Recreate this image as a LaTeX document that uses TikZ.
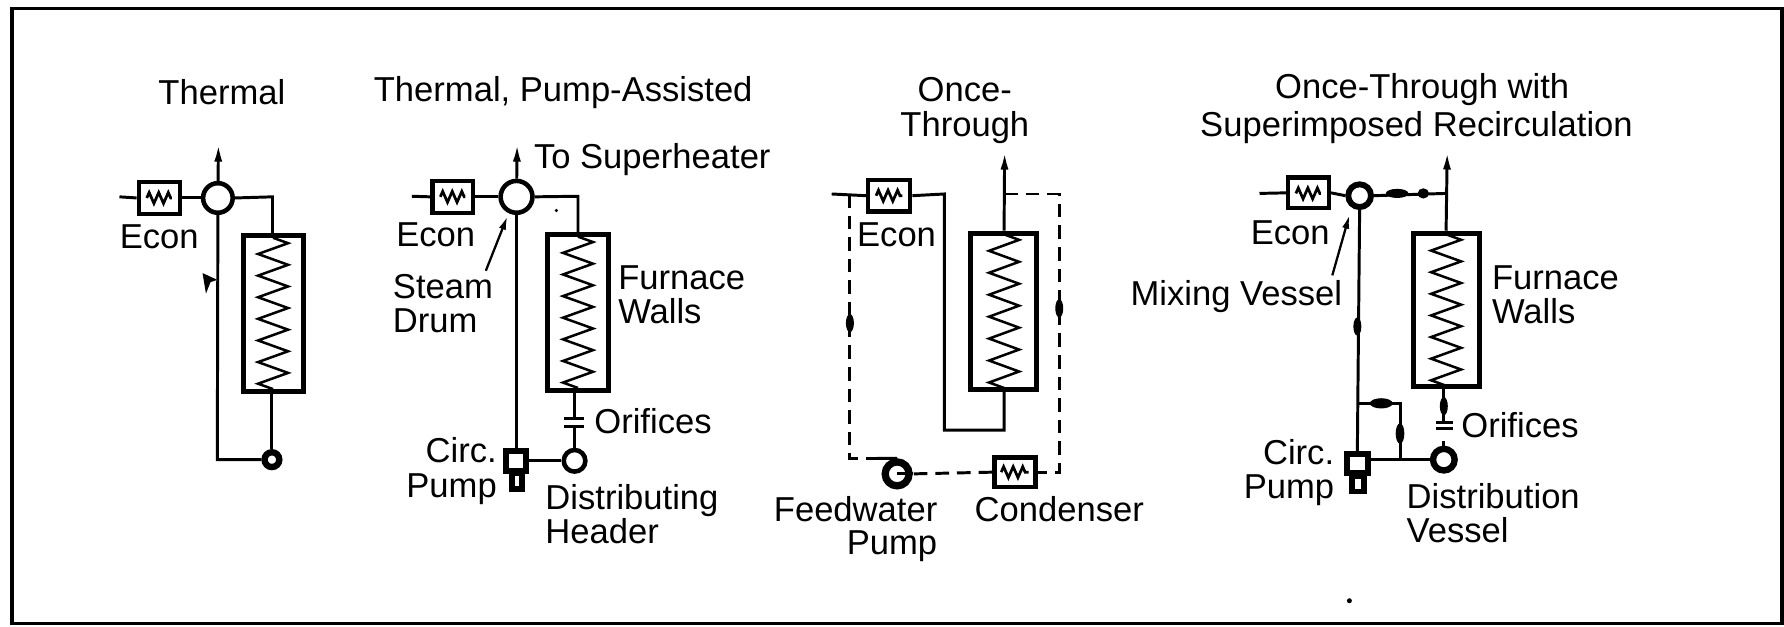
\documentclass[tikz,border=0pt]{standalone}
\usepackage{fontspec}
\setmainfont{Liberation Sans}
\usetikzlibrary{decorations.pathmorphing,arrows.meta,shapes.geometric}
\tikzset{
  x=0.5pt,y=-0.5pt,
  pipe/.style={line width=1.3pt},
  dashpipe/.style={line width=1.3pt,dash pattern=on 6pt off 3.5pt},
  furnace/.style={draw,line width=2.2pt,inner sep=0pt,fill=white},
  econbox/.style={draw,line width=1.9pt,inner sep=0pt,fill=white},
  pumpbox/.style={draw,line width=2.6pt,inner sep=0pt,fill=white},
  vessel/.style={draw,circle,inner sep=0pt,fill=white},
  lbl/.style={inner sep=0pt,font=\fontsize{15.2}{16}\selectfont},
  lblL/.style={lbl,anchor=west},
  lblR/.style={lbl,anchor=east},
  tiparrow/.style={-{Latex[length=8pt,width=3.5pt]}},
  blob/.style={fill,ellipse,inner sep=0pt},
}
\newcommand{\boxat}[6]{% name x1 y1 x2 y2 style
  \node[#6,minimum width={(#4-#2)*0.5pt},minimum height={(#5-#3)*0.5pt}] (#1) at ({(#2+#4)/2},{(#3+#5)/2}) {};}
\newcommand{\vcoil}[4]{% cx ytop ybot segments
  \draw[line width=1.1pt,decorate,decoration={zigzag,amplitude=6.6pt,segment length={(#3-#2)*0.5pt/#4}}] (#1,#2) -- (#1,#3);}
\newcommand{\hcoil}[3]{% x1 x2 y
  \draw[line width=1.2pt,decorate,decoration={zigzag,amplitude=2.4pt,segment length=4.2pt}] (#1,#3) -- (#2,#3);}
\begin{document}
\begin{tikzpicture}
\useasboundingbox (0,0) rectangle (1568,551);
\fill[white] (0,0) rectangle (1568,551);
\coordinate (fa) at (10.5,7.5); \coordinate (fb) at (1566,548);
\draw[line width=1.6pt] (fa) rectangle (fb);

%% Panel 1: Thermal
\node[lbl] (t1) at (195,81) {Thermal};
\coordinate (a1top) at (192,126);
\coordinate (a1in) at (105,173);
\coordinate (a1rc) at (239.5,173);
\coordinate (a1lc) at (191,404);
\boxat{a1econ}{122}{160}{158}{188}{econbox}
\hcoil{129}{151}{174}
\boxat{a1f}{214}{207}{267}{344}{furnace}
\vcoil{240}{209}{342}{7}
\node[vessel,line width=2pt,minimum size=13pt] (a1d) at (191.5,174) {};
\node[vessel,line width=2.8pt,minimum size=6.5pt] (a1h) at (239,404) {};
\node[lbl] (a1el) at (140,208) {Econ};
\draw[pipe] (a1in) -- (a1econ.west);
\draw[pipe] (a1econ) -- (a1d);
\draw[pipe,tiparrow] (a1d) -- (a1top);
\draw[pipe] (a1d.east) -- (a1rc) -- (a1f.north-|a1rc);
\draw[pipe] (a1f.south-|a1h) -- (a1h);
\draw[pipe] (a1d.south) -- (a1lc) -- (a1h.west);
\coordinate (a1fl) at (191,246);
\fill (a1fl) -- ++(-13,-6) -- ++(3,18) -- ++(4,-10) -- cycle;

%% Panel 2: Thermal, Pump-Assisted
\node[lbl] (t2) at (495,81) {Thermal, Pump-Assisted};
\coordinate (b2top) at (454.5,126);
\coordinate (b2in) at (362,172.5);
\coordinate (b2rc) at (508,172.5);
\boxat{b2econ}{380}{159}{416}{187}{econbox}
\hcoil{387}{409}{173}
\boxat{b2f}{481}{206}{535}{343}{furnace}
\vcoil{508}{208}{341}{7}
\node[vessel,line width=2pt,minimum size=14pt] (b2d) at (454,173) {};
\node[vessel,line width=2pt,minimum size=9.5pt] (b2h) at (505,405) {};
\boxat{b2p}{445}{396}{462}{414}{pumpbox}
\boxat{b2q}{450}{416}{459}{430}{pumpbox}
\fill[white] (452,402) rectangle (456,408);
\node[lbl] (b2el) at (383,206) {Econ};
\node[lblL] (b2ts) at (469,140.5) {To Superheater};
\node[lblL,align=left,text width=55pt] (b2sd) at (345,267) {Steam\\[-1pt]Drum};
\node[lblL,align=left] (b2fw) at (543,259) {Furnace\\[-1pt]Walls};
\node[lblL] (b2or) at (522,370.5) {Orifices};
\node[lblR,align=right] (b2cp) at (437,414) {Circ.\\[-1pt]Pump};
\node[lblL,align=left] (b2dh) at (479,452) {Distributing\\[-1pt]Header};
\coordinate (b2po) at (427,238);
\draw[pipe] (b2in) -- (b2econ.west);
\draw[pipe] (b2econ) -- (b2d);
\draw[pipe,tiparrow] (b2d) -- (b2top);
\draw[pipe] (b2d.east) -- (b2rc) -- (b2f.north-|b2rc);
\draw[pipe] (b2d.south) -- (b2p.north-|b2d);
\draw[pipe] (b2p.east|-b2h) -- (b2h.west);
\coordinate (b2o1) at (496,368); \coordinate (b2o2) at (513,368);
\coordinate (b2o3) at (496,375); \coordinate (b2o4) at (513,375);
\draw[pipe] (b2f.south-|b2h) -- (b2h.north);
\fill[white] (490,368) rectangle (520,375);
\draw[pipe] (b2o1) -- (b2o2);
\draw[pipe] (b2o3) -- (b2o4);
\draw[line width=1pt,-{Latex[length=6pt,width=3.2pt]}] (b2po) -- (446,190);

%% Panel 3: Once-Through
\node[lbl,align=center] (t3a) at (848,79) {Once-};
\node[lbl,align=center] (t3b) at (848,112) {Through};
\coordinate (c3top) at (883,133);
\coordinate (c3in) at (731,170.5);
\coordinate (c3j) at (747,170.5);
\coordinate (c3a) at (830,170.5);
\coordinate (c3b) at (830,378);
\coordinate (c3c) at (882.5,378);
\coordinate (c3t) at (882.5,170.5);
\coordinate (c3r) at (931,170.5);
\coordinate (c3s) at (931,415);
\coordinate (c3l) at (747,403);
\coordinate (c3m) at (767,403);
\boxat{c3econ}{763}{158}{800}{186}{econbox}
\hcoil{770}{793}{172}
\boxat{c3f}{853}{205}{911}{342}{furnace}
\vcoil{882.5}{206}{341}{7}
\boxat{c3cond}{874}{402}{910}{428}{econbox}
\hcoil{880}{904}{415}
\node[vessel,line width=3.2pt,minimum size=10.5pt] (c3p) at (788.5,416.5) {};
\node[lbl] (c3el) at (788,206) {Econ};
\node[lbl] (c3fw) at (752,447.5) {Feedwater};
\node[lbl] (c3fp) at (784,480) {Pump};
\node[lbl] (c3cl) at (931,447.5) {Condenser};
\draw[pipe] (c3in) -- (c3econ.west);
\draw[pipe] (c3econ.east) -- (c3a) -- (c3b) -- (c3c) -- (c3f.south-|c3c);
\draw[pipe,tiparrow] (c3f.north-|c3t) -- (c3top);
\draw[dashpipe] (c3t) -- (c3r) -- (c3s) -- (c3cond.east);
\draw[dashpipe] (c3cond.west) -- (c3p.east);
\draw[dashpipe] (c3j) -- (c3l) -- (c3m);
\draw[pipe] (c3m) -- (c3p.north);
\draw[pipe] (c3p.center) -- (c3p.east);
\node[blob,minimum width=3.5pt,minimum height=8pt] (c3b1) at (747,284) {};
\node[blob,minimum width=3.5pt,minimum height=8pt] (c3b2) at (931,271) {};

%% Panel 4: Once-Through with Superimposed Recirculation
\node[lbl] (t4a) at (1250,79) {Once-Through with};
\node[lbl] (t4b) at (1245,112.5) {Superimposed Recirculation};
\coordinate (d4top) at (1272,133);
\coordinate (d4in) at (1107,170);
\coordinate (d4j) at (1271,170);
\coordinate (d4by) at (1193,354.5);
\coordinate (d4bc) at (1230.5,354.5);
\coordinate (d4bd) at (1230.5,404);
\boxat{d4econ}{1132}{156}{1168}{183}{econbox}
\hcoil{1139}{1161}{170}
\boxat{d4f}{1242}{205}{1300}{340}{furnace}
\vcoil{1271}{206}{339}{7}
\node[vessel,line width=2.6pt,minimum size=10pt] (d4d) at (1195,172) {};
\node[vessel,line width=2.8pt,minimum size=9.5pt] (d4h) at (1269,404) {};
\boxat{d4p}{1184}{399}{1202}{416}{pumpbox}
\boxat{d4q}{1188}{418}{1199}{432}{pumpbox}
\fill[white] (1190,404) rectangle (1196,410);
\node[lbl] (d4el) at (1134,205) {Econ};
\node[lblR] (d4mv) at (1180,261) {Mixing Vessel};
\node[lblL,align=left] (d4fw) at (1311,259) {Furnace\\[-1pt]Walls};
\node[lblL] (d4or) at (1284,374) {Orifices};
\node[lblR,align=right] (d4cp) at (1173,415) {Circ.\\[-1pt]Pump};
\node[lblL,align=left] (d4dv) at (1236,451) {Distribution\\[-1pt]Vessel};
\coordinate (d4po) at (1171,242);
\draw[pipe] (d4in) -- (d4econ.west);
\draw[pipe] (d4econ.east) -- (d4d.west);
\draw[pipe] (d4d.east) -- (d4j);
\draw[pipe,tiparrow] (d4f.north-|d4j) -- (d4top);
\draw[pipe] (d4d.south) -- (d4p.north-|d4by);
\draw[pipe] (d4p.east|-d4h) -- (d4h.west);
\draw[pipe] (d4by) -- (d4bc) -- (d4bd);
\draw[pipe] (d4f.south-|d4h) -- (1269,384);
\draw[pipe] (1269,388) -- (d4h.north);
\fill[white] (1258,370) rectangle (1280,386);
\draw[pipe] (1262,371) -- (1277,371);
\draw[pipe] (1262,377) -- (1277,377);
\draw[line width=1pt,-{Latex[length=6pt,width=3.2pt]}] (d4po) -- (1186,189);
\node[blob,minimum width=10pt,minimum height=4pt] (d4v1) at (1228,170) {};
\node[blob,minimum width=5pt,minimum height=4.5pt] (d4v2) at (1251,170) {};
\node[blob,minimum width=10pt,minimum height=4.5pt] (d4v3) at (1214,354.5) {};
\node[blob,minimum width=3.8pt,minimum height=9pt] (d4v4) at (1230.5,381) {};
\node[blob,minimum width=3.5pt,minimum height=8pt] (d4v5) at (1193,287) {};
\node[blob,minimum width=3.5pt,minimum height=8pt] (d4v6) at (1269,357) {};

%% specks
\fill (1186,528) circle (1.1pt);
\fill (489,185) circle (0.8pt);
\end{tikzpicture}
\end{document}
